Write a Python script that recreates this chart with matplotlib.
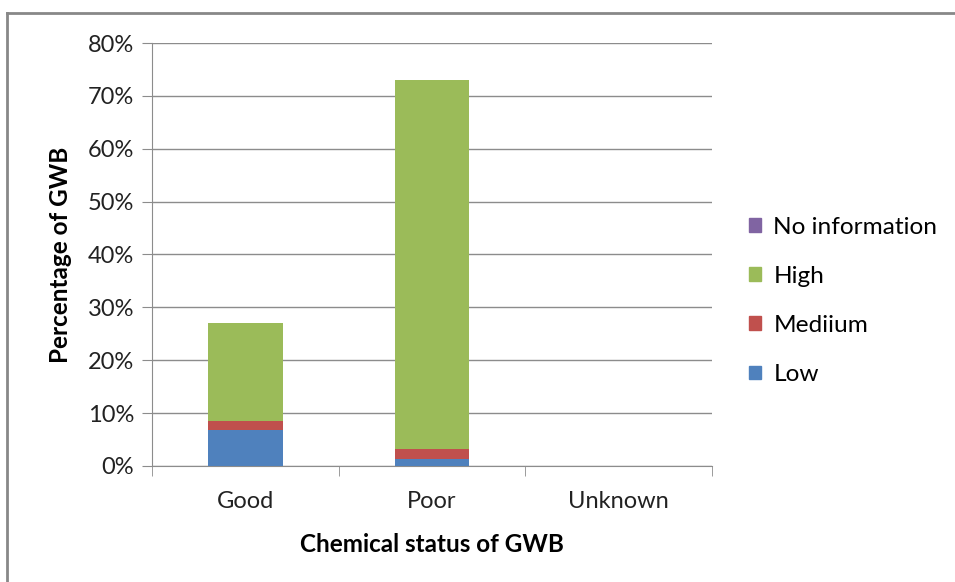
import numpy as np
import matplotlib.pyplot as plt
from matplotlib.lines import Line2D
from matplotlib.patches import Patch

plt.rcParams['font.family'] = ['Lato', 'DejaVu Sans']

categories = ['Good', 'Poor', 'Unknown']
low = [6.8, 1.4, 0]
medium = [1.7, 1.9, 0]
high = [18.5, 69.7, 0]
no_info = [0, 0, 0]

colors = {'Low': '#4f81bd', 'Mediium': '#c0504d', 'High': '#9bbb59', 'No information': '#8064a2'}

W, H = 955, 582
fig = plt.figure(figsize=(W / 100, H / 100), dpi=100)
ax = fig.add_axes([152 / W, 1 - 466 / H, (712 - 152) / W, (466 - 43) / H])

# outer chart frame (only left and top visible)
fig.add_artist(Line2D([7 / W, 7 / W], [0, 1 - 13 / H], color='#888888', lw=2, transform=fig.transFigure))
fig.add_artist(Line2D([7 / W, 1], [1 - 13 / H, 1 - 13 / H], color='#888888', lw=2, transform=fig.transFigure))

x = np.arange(len(categories))
bw = 0.4
bottom = np.zeros(3)
for name, vals in [('Low', low), ('Mediium', medium), ('High', high), ('No information', no_info)]:
    ax.bar(x, vals, bw, bottom=bottom, color=colors[name], zorder=3)
    bottom += np.array(vals)

ax.set_xlim(-0.5, 2.5)
ax.set_ylim(0, 80)
ax.set_yticks(range(0, 81, 10))
ax.set_yticklabels([f'{v}%' for v in range(0, 81, 10)], fontsize=17, color='#222222')
ax.yaxis.grid(True, color='#8c8c8c', lw=1, zorder=0)
ax.set_xticks(x)
ax.set_xticklabels(categories, fontsize=17, color='#222222')
ax.tick_params(axis='x', length=0, pad=18)
ax.tick_params(axis='y', length=7, color='#8c8c8c', pad=6)
ax.set_xticks([-0.5, 0.5, 1.5, 2.5], minor=True)
ax.tick_params(axis='x', which='minor', length=7, color='#8c8c8c', direction='out')

for s in ['top', 'right']:
    ax.spines[s].set_visible(False)
for s in ['left', 'bottom']:
    ax.spines[s].set_color('#8c8c8c')

ax.set_xlabel('Chemical status of GWB', fontsize=17.5, fontweight='bold', labelpad=15)
ax.set_ylabel('Percentage of GWB', fontsize=17.5, fontweight='bold', labelpad=11)

handles = [Patch(color=colors[n]) for n in ['No information', 'High', 'Mediium', 'Low']]
fig.legend(handles, ['No information', 'High', 'Mediium', 'Low'], loc='center left',
           bbox_to_anchor=(727 / W, 1 - 301 / H), frameon=False, fontsize=17.6,
           handlelength=0.5, handleheight=0.5, handletextpad=0.5, labelspacing=1.15)

fig.savefig('out.png', dpi=100)
